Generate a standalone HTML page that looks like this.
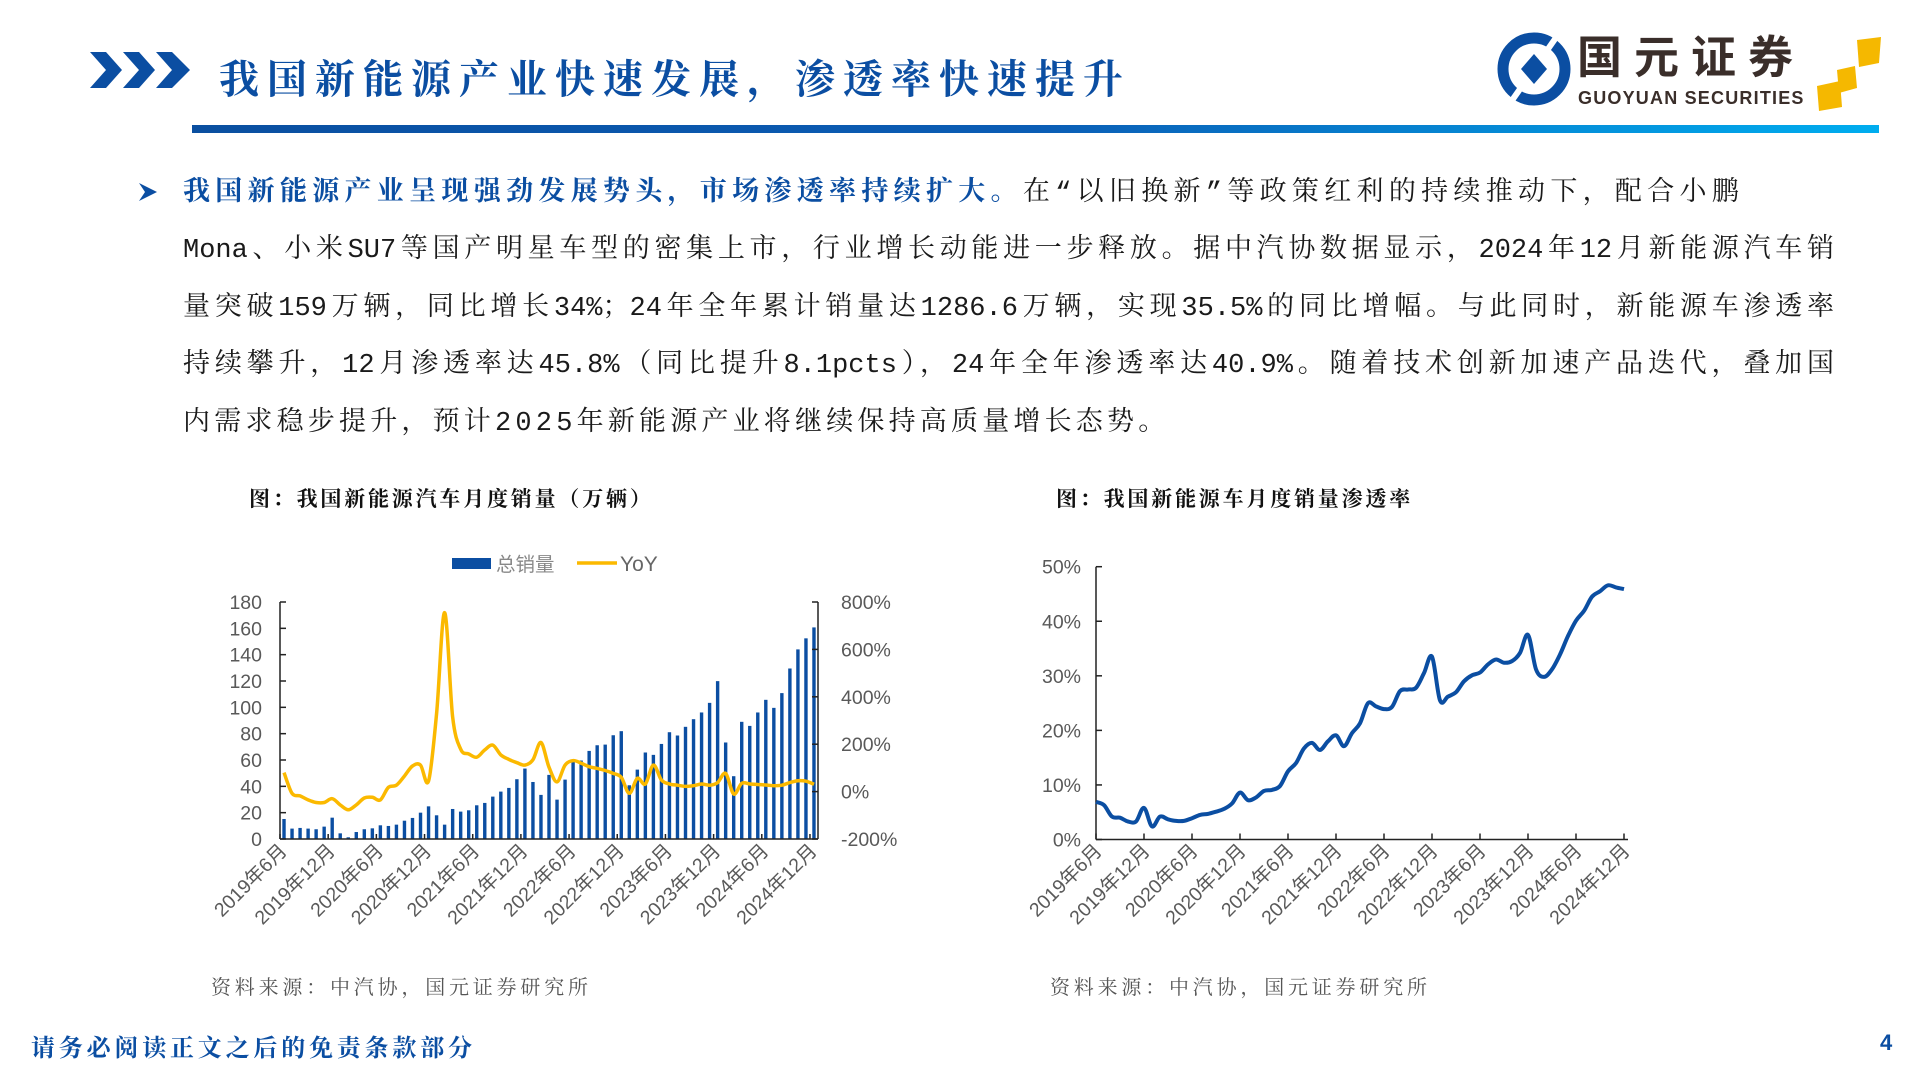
<!DOCTYPE html>
<html><head><meta charset="utf-8">
<style>
*{margin:0;padding:0;box-sizing:border-box}
body{width:1920px;height:1080px;background:#fff;position:relative;overflow:hidden;font-family:"Liberation Sans","Noto Sans CJK SC",sans-serif}
.abs{position:absolute}
.title{left:219px;top:48px;font-size:40px;font-weight:bold;color:#0b4ea2;font-family:"Liberation Serif","Noto Serif CJK SC",serif;letter-spacing:8px;white-space:nowrap}
.bar{left:192px;top:125px;width:1687px;height:8px;background:linear-gradient(90deg,#0a4fa0 0%,#0b5db5 50%,#00adef 100%)}
.txt{left:183px;font-size:27px;color:#1a1a1a;font-family:"Liberation Mono","Noto Serif CJK SC",serif;white-space:nowrap;height:40px;line-height:40px}
.j{width:1651px;text-align:justify;text-align-last:justify}
.ct{font-size:21px;font-weight:bold;color:#111;font-family:"Liberation Serif","Noto Serif CJK SC",serif;letter-spacing:2.8px;white-space:nowrap}
.src{font-size:20px;color:#555;font-family:"Liberation Serif","Noto Serif CJK SC",serif;letter-spacing:3.8px;white-space:nowrap}
</style></head>
<body>
<svg class="abs" style="left:90px;top:52px" width="105" height="40">
<polygon points="0,0 16,0 32,18 16,36 0,36 16,18" fill="#0b4ea2"/>
<polygon points="33,0 49,0 65,18 49,36 33,36 49,18" fill="#0b4ea2"/>
<polygon points="66,0 82,0 100,18 82,36 66,36 82,18" fill="#0b4ea2"/>
</svg>
<div class="abs title">我国新能源产业快速发展，渗透率快速提升</div>
<div class="abs bar"></div>

<div class="abs" style="left:1497px;top:32px;width:400px;height:80px">
<svg width="75" height="75" style="position:absolute;left:0;top:0">
<circle cx="37" cy="37" r="31" fill="none" stroke="#0b4ea2" stroke-width="11"/>
<rect x="34" y="0" width="6" height="75" fill="#fff" transform="rotate(35 37 37)"/>
<polygon points="37,22 50,37 37,52 24,37" fill="#0b4ea2"/>
</svg>
<div style="position:absolute;left:80px;top:2px;font-size:45px;font-weight:bold;color:#3a2e2a;font-family:'Liberation Sans','Noto Sans CJK SC',sans-serif;letter-spacing:12px;line-height:48px">国元证券</div>
<div style="position:absolute;left:81px;top:56px;font-size:18px;font-weight:bold;color:#3a2e2a;line-height:20px;letter-spacing:1.2px">GUOYUAN SECURITIES</div>
<svg width="70" height="80" style="position:absolute;left:318px;top:0">
<polygon points="22,38 40,34 42,56 24,61" fill="#f5b800"/>
<polygon points="2,54 25,49 27,75 4,79" fill="#f5b800"/>
<polygon points="42,8 66,5 64,31 44,35" fill="#f5b800"/>
</svg>
</div>

<svg class="abs" style="left:137px;top:181px" width="22" height="24"><polygon points="2,2 20,11 2,20 8,11" fill="#0b4ea2"/></svg>
<div class="abs txt" style="top:174px;letter-spacing:5.3px"><b style="color:#0b4ea2">我国新能源产业呈现强劲发展势头，市场渗透率持续扩大。</b>在“以旧换新”等政策红利的持续推动下，配合小鹏</div>
<div class="abs txt j" style="top:231px">Mona、小米SU7等国产明星车型的密集上市，行业增长动能进一步释放。据中汽协数据显示，2024年12月新能源汽车销</div>
<div class="abs txt j" style="top:289px">量突破159万辆，同比增长34%；24年全年累计销量达1286.6万辆，实现35.5%的同比增幅。与此同时，新能源车渗透率</div>
<div class="abs txt j" style="top:346px">持续攀升，12月渗透率达45.8%（同比提升8.1pcts），24年全年渗透率达40.9%。随着技术创新加速产品迭代，叠加国</div>
<div class="abs txt" style="top:404px;letter-spacing:4.2px">内需求稳步提升，预计2025年新能源产业将继续保持高质量增长态势。</div>

<div class="abs ct" style="left:249px;top:483px">图：我国新能源汽车月度销量（万辆）</div>
<div class="abs ct" style="left:1056px;top:483px">图：我国新能源车月度销量渗透率</div>
<div class="abs src" style="left:211px;top:971px">资料来源：中汽协，国元证券研究所</div>
<div class="abs src" style="left:1050px;top:971px">资料来源：中汽协，国元证券研究所</div>
<div class="abs" style="left:31px;top:1028px;font-size:24px;font-weight:bold;color:#0b4ea2;font-family:'Liberation Serif','Noto Serif CJK SC',serif;letter-spacing:3.8px;white-space:nowrap">请务必阅读正文之后的免责条款部分</div>
<div class="abs" style="left:1880px;top:1030px;font-size:22px;font-weight:bold;color:#0b4ea2">4</div>

<svg id="chart1" class="abs" style="left:0;top:0" width="960" height="1080"></svg>
<svg id="chart2" class="abs" style="left:960px;top:0" width="960" height="1080"></svg>

<script>
const salesValues=[15.2,7.9,8.4,7.9,7.4,9.4,16.2,4.3,1.3,5.3,7.4,8.1,10.4,9.9,10.9,13.9,16.0,20.0,24.8,18.0,10.9,22.8,20.8,21.8,25.6,27.4,32.2,36.0,38.8,45.4,53.5,43.3,33.5,48.7,29.9,45.1,59.1,59.6,66.9,71.2,71.7,78.8,81.9,40.8,52.7,65.7,63.9,72.2,81.1,78.6,85.2,91.0,96.1,103.4,119.9,73.3,47.7,89.0,85.9,96.1,105.7,99.6,110.8,129.5,144.0,152.4,160.7];
const yoyValues=[80,-7,-18,-35,-46,-46,-30,-56,-77,-56,-27,-24,-35,18,27,66,108,112,45,330,755,316,179,159,145,176,196,155,136,122,112,134,207,103,41,112,131,120,105,98,89,77,60,-7,56,32,112,49,32,27,22,25,32,27,38,77,-10,35,32,30,28,25,27,38,46,44,31];
const penetrationValues=[6.9,6.3,4.2,4.0,3.3,3.3,5.8,2.4,4.2,3.7,3.4,3.4,3.9,4.5,4.7,5.1,5.6,6.6,8.6,7.2,7.7,8.9,9.1,9.8,12.5,14.0,16.7,17.7,16.4,18.0,19.1,17.1,19.5,21.3,25.0,24.4,23.9,24.3,27.2,27.5,27.8,30.5,33.5,25.5,26.2,27.0,29.0,30.1,30.6,32.1,33.0,32.4,32.7,34.2,37.5,31.2,29.8,31.2,33.9,37.3,40.1,41.9,44.5,45.5,46.6,46.2,45.9];
const leftTicks=[0,20,40,60,80,100,120,140,160,180];
const rightTicks=[-200,0,200,400,600,800];
const penTicks=[0,10,20,30,40,50];
const startYear=2019,startMonth=6;

const NS='http://www.w3.org/2000/svg';
function mk(parent,tag,attrs){const e=document.createElementNS(NS,tag);for(const k in attrs)e.setAttribute(k,attrs[k]);parent.appendChild(e);return e;}
function monthLabel(i){const m=startMonth-1+i;return (startYear+Math.floor(m/12))+'年'+(m%12+1)+'月';}
function smooth(pts){let d='M'+pts[0][0]+','+pts[0][1];for(let i=0;i<pts.length-1;i++){const p0=pts[i-1]||pts[i],p1=pts[i],p2=pts[i+1],p3=pts[i+2]||p2;const c1x=p1[0]+(p2[0]-p0[0])/6,c1y=p1[1]+(p2[1]-p0[1])/6,c2x=p2[0]-(p3[0]-p1[0])/6,c2y=p2[1]-(p3[1]-p1[1])/6;d+=' C'+c1x.toFixed(1)+','+c1y.toFixed(1)+' '+c2x.toFixed(1)+','+c2y.toFixed(1)+' '+p2[0].toFixed(1)+','+p2[1].toFixed(1);}return d;}
const tf='font-family:"Liberation Sans","Noto Sans CJK SC",sans-serif;fill:#595959;font-size:19.5px';

// Chart 1
(function(){
const svg=document.getElementById('chart1');
const x0=280,x1=818,yb=839,yt=602,n=salesValues.length,step=(x1-x0)/n;
const xc=i=>x0+step*(i+0.5);
const yL=v=>yb-(v-0)/(180-0)*(yb-yt);
const yR=v=>yb-(v+200)/(1000)*(yb-yt);
const bars=mk(svg,'g',{});


salesValues.forEach((v,i)=>{const r=mk(bars,'rect',{x:xc(i)-1.7,y:yL(v),width:3.4,height:yb-yL(v),fill:'#0b4ea2'});

});
const ax=mk(svg,'g',{stroke:'#222','stroke-width':1.5});


mk(ax,'line',{x1:x0,y1:yt,x2:x0,y2:yb});
mk(ax,'line',{x1:x1,y1:yt,x2:x1,y2:yb});
mk(ax,'line',{x1:x0,y1:yb,x2:x1,y2:yb});
leftTicks.forEach(t=>{mk(ax,'line',{x1:x0,y1:yL(t),x2:x0+6,y2:yL(t)});const tx=mk(svg,'text',{x:262,y:yL(t)+7,'text-anchor':'end',style:tf});tx.textContent=t;

});
rightTicks.forEach(t=>{mk(ax,'line',{x1:x1-6,y1:yR(t),x2:x1,y2:yR(t)});const tx=mk(svg,'text',{x:841,y:yR(t)+7,style:tf});tx.textContent=t+'%';

});
for(let i=0;i<=n;i+=6){mk(ax,'line',{x1:x0+step*i,y1:yb,x2:x0+step*i,y2:yb-5});}
for(let i=0;i<n;i+=6){const x=xc(i)+4,y=852;const tx=mk(svg,'text',{x:x,y:y,'text-anchor':'end',transform:'rotate(-45 '+x+' '+y+')',style:tf});tx.textContent=monthLabel(i);

}
const pts=yoyValues.map((v,i)=>[xc(i),yR(v)]);
const p=mk(svg,'path',{d:smooth(pts),fill:'none',stroke:'#fbb900','stroke-width':3.5,'stroke-linejoin':'round'});


const lg=mk(svg,'g',{});


mk(lg,'rect',{x:452,y:558,width:39,height:11,fill:'#0b4ea2'});
const t1=mk(lg,'text',{x:496,y:571,style:tf+';fill:#888'});t1.textContent='总销量';
mk(lg,'line',{x1:577,y1:563,x2:617,y2:563,stroke:'#fbb900','stroke-width':3.5});
const t2=mk(lg,'text',{x:620,y:571,style:tf+';font-size:21px;fill:#666'});t2.textContent='YoY';
})();

// Chart 2
(function(){
const svg=document.getElementById('chart2');
const off=960,x0=1096-off,yb=839.5,yt=566.7,n=penetrationValues.length,step=8.0;
const xc=i=>x0+step*i;
const y=v=>yb-v/50*(yb-yt);
const ax=mk(svg,'g',{stroke:'#222','stroke-width':1.5});


mk(ax,'line',{x1:x0,y1:yt,x2:x0,y2:yb});
mk(ax,'line',{x1:x0,y1:yb,x2:xc(n-1)+4,y2:yb});
penTicks.forEach(t=>{mk(ax,'line',{x1:x0,y1:y(t),x2:x0+6,y2:y(t)});const tx=mk(svg,'text',{x:1081-off,y:y(t)+7,'text-anchor':'end',style:tf});tx.textContent=t+'%';

});
for(let i=0;i<n;i+=6){mk(ax,'line',{x1:xc(i),y1:yb,x2:xc(i),y2:yb-6});const x=xc(i)+7,yy=852;const tx=mk(svg,'text',{x:x,y:yy,'text-anchor':'end',transform:'rotate(-45 '+x+' '+yy+')',style:tf});tx.textContent=monthLabel(i);

}
const pts=penetrationValues.map((v,i)=>[xc(i),y(v)]);
const p=mk(svg,'path',{d:smooth(pts),fill:'none',stroke:'#0b4ea2','stroke-width':4,'stroke-linejoin':'round'});


})();
</script>
</body></html>
